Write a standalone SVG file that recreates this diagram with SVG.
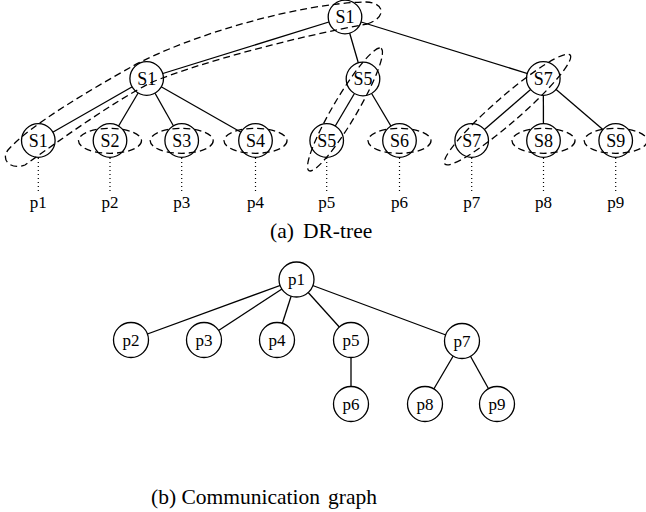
<svg xmlns="http://www.w3.org/2000/svg" width="646" height="512" viewBox="0 0 646 512">
<style>
.n{fill:#fff;stroke:#000;stroke-width:1.3}
.e{stroke:#000;stroke-width:1.3;fill:none}
.d{fill:none;stroke:#000;stroke-width:1.3;stroke-dasharray:7 4}
.dot{stroke:#000;stroke-width:1.2;stroke-dasharray:1 3}
.t{font-family:"Liberation Serif","Times New Roman",serif;font-size:17px;text-anchor:middle;fill:#000}
.s{font-size:18px}
.c{font-family:"Liberation Serif","Times New Roman",serif;font-size:21.5px;fill:#000}
</style>
<g id="connectors">
<line class="e" x1="345" y1="17" x2="146.7" y2="78.5"/>
<line class="e" x1="345" y1="17" x2="363" y2="79"/>
<line class="e" x1="345" y1="17" x2="543.3" y2="78.5"/>
<line class="e" x1="146.7" y1="78.5" x2="38.3" y2="140.5"/>
<line class="e" x1="146.7" y1="78.5" x2="110" y2="140.5"/>
<line class="e" x1="146.7" y1="78.5" x2="181.7" y2="140.5"/>
<line class="e" x1="146.7" y1="78.5" x2="255.5" y2="140.5"/>
<line class="e" x1="363" y1="79" x2="326.7" y2="140.5"/>
<line class="e" x1="363" y1="79" x2="399.5" y2="140.5"/>
<line class="e" x1="543.3" y1="78.5" x2="471.7" y2="140.5"/>
<line class="e" x1="543.3" y1="78.5" x2="543.5" y2="140.5"/>
<line class="e" x1="543.3" y1="78.5" x2="615.7" y2="140.5"/>
<line class="dot" x1="38.3" y1="158" x2="38.3" y2="193"/>
<line class="dot" x1="110" y1="158" x2="110" y2="193"/>
<line class="dot" x1="181.7" y1="158" x2="181.7" y2="193"/>
<line class="dot" x1="255.5" y1="158" x2="255.5" y2="193"/>
<line class="dot" x1="326.7" y1="158" x2="326.7" y2="193"/>
<line class="dot" x1="399.5" y1="158" x2="399.5" y2="193"/>
<line class="dot" x1="471.7" y1="158" x2="471.7" y2="193"/>
<line class="dot" x1="543.5" y1="158" x2="543.5" y2="193"/>
<line class="dot" x1="615.7" y1="158" x2="615.7" y2="193"/>
<line class="e" x1="296.5" y1="279.5" x2="131" y2="340"/>
<line class="e" x1="296.5" y1="279.5" x2="204" y2="340"/>
<line class="e" x1="296.5" y1="279.5" x2="277" y2="340"/>
<line class="e" x1="296.5" y1="279.5" x2="351" y2="340"/>
<line class="e" x1="296.5" y1="279.5" x2="462" y2="341"/>
<line class="e" x1="351" y1="340" x2="351" y2="404"/>
<line class="e" x1="462" y1="341" x2="425" y2="404"/>
<line class="e" x1="462" y1="341" x2="497" y2="404"/>
</g>
<g id="root-S1"><circle class="n" cx="345" cy="17" r="16.8"/></g>
<g id="l2-S1"><circle class="n" cx="146.7" cy="78.5" r="16.8"/></g>
<g id="l2-S5"><circle class="n" cx="363" cy="79" r="16.8"/></g>
<g id="l2-S7"><circle class="n" cx="543.3" cy="78.5" r="16.8"/></g>
<g id="l3-S1"><circle class="n" cx="38.3" cy="140.5" r="16.8"/></g>
<g id="l3-S2"><circle class="n" cx="110" cy="140.5" r="16.8"/></g>
<g id="l3-S3"><circle class="n" cx="181.7" cy="140.5" r="16.8"/></g>
<g id="l3-S4"><circle class="n" cx="255.5" cy="140.5" r="16.8"/></g>
<g id="l3-S5"><circle class="n" cx="326.7" cy="140.5" r="16.8"/></g>
<g id="l3-S6"><circle class="n" cx="399.5" cy="140.5" r="16.8"/></g>
<g id="l3-S7"><circle class="n" cx="471.7" cy="140.5" r="16.8"/></g>
<g id="l3-S8"><circle class="n" cx="543.5" cy="140.5" r="16.8"/></g>
<g id="l3-S9"><circle class="n" cx="615.7" cy="140.5" r="16.8"/></g>
<g id="groups">
<path class="d" d="M367,24 C386,18 386,3 366,2 C300,3 190,35 133,66 C90,90 30,125 8,150 C0,161 12,170 25,165 C60,140 110,104 150,83 C200,62 300,36 367,24 Z"/>
<ellipse class="d" cx="345" cy="109.5" rx="71" ry="12" transform="rotate(-59.5 345 109.5)"/>
<ellipse class="d" cx="507.5" cy="109.5" rx="83" ry="13" transform="rotate(-41 507.5 109.5)"/>
<ellipse class="d" cx="110" cy="140.8" rx="31.5" ry="12.5"/>
<ellipse class="d" cx="181.7" cy="140.8" rx="31.5" ry="12.5"/>
<ellipse class="d" cx="255.5" cy="140.8" rx="31.5" ry="12.5"/>
<ellipse class="d" cx="399.5" cy="140.8" rx="31.5" ry="12.5"/>
<ellipse class="d" cx="543.5" cy="140.8" rx="31.5" ry="12.5"/>
<ellipse class="d" cx="615.7" cy="140.8" rx="31.5" ry="12.5"/>
</g>
<g id="tree-labels">
<text class="t s" x="345" y="23">S1</text>
<text class="t s" x="146.7" y="84.5">S1</text>
<text class="t s" x="363" y="85">S5</text>
<text class="t s" x="543.3" y="84.5">S7</text>
<text class="t s" x="38.3" y="146.5">S1</text>
<text class="t s" x="110" y="146.5">S2</text>
<text class="t s" x="181.7" y="146.5">S3</text>
<text class="t s" x="255.5" y="146.5">S4</text>
<text class="t s" x="326.7" y="146.5">S5</text>
<text class="t s" x="399.5" y="146.5">S6</text>
<text class="t s" x="471.7" y="146.5">S7</text>
<text class="t s" x="543.5" y="146.5">S8</text>
<text class="t s" x="615.7" y="146.5">S9</text>
<text class="t" x="38.3" y="207.5">p1</text>
<text class="t" x="110" y="207.5">p2</text>
<text class="t" x="181.7" y="207.5">p3</text>
<text class="t" x="255.5" y="207.5">p4</text>
<text class="t" x="326.7" y="207.5">p5</text>
<text class="t" x="399.5" y="207.5">p6</text>
<text class="t" x="471.7" y="207.5">p7</text>
<text class="t" x="543.5" y="207.5">p8</text>
<text class="t" x="615.7" y="207.5">p9</text>
</g>
<g id="p1"><circle class="n" cx="296.5" cy="279.5" r="17.5"/><text class="t" x="296.5" y="284.5">p1</text></g>
<g id="p2"><circle class="n" cx="131" cy="340" r="17.5"/><text class="t" x="131" y="345.5">p2</text></g>
<g id="p3"><circle class="n" cx="204" cy="340" r="17.5"/><text class="t" x="204" y="345.5">p3</text></g>
<g id="p4"><circle class="n" cx="277" cy="340" r="17.5"/><text class="t" x="277" y="345.5">p4</text></g>
<g id="p5"><circle class="n" cx="351" cy="340" r="17.5"/><text class="t" x="351" y="345.5">p5</text></g>
<g id="p6"><circle class="n" cx="351" cy="404" r="17.5"/><text class="t" x="351" y="409.5">p6</text></g>
<g id="p7"><circle class="n" cx="462" cy="341" r="17.5"/><text class="t" x="462" y="346.5">p7</text></g>
<g id="p8"><circle class="n" cx="425" cy="404" r="17.5"/><text class="t" x="425" y="409.5">p8</text></g>
<g id="p9"><circle class="n" cx="497" cy="404" r="17.5"/><text class="t" x="497" y="409.5">p9</text></g>
<g id="captions">
<text class="c" x="270" y="238">(a)<tspan x="303">DR-tree</tspan></text>
<text class="c" x="151" y="504">(b) Communication<tspan x="328">graph</tspan></text>
</g>
</svg>
